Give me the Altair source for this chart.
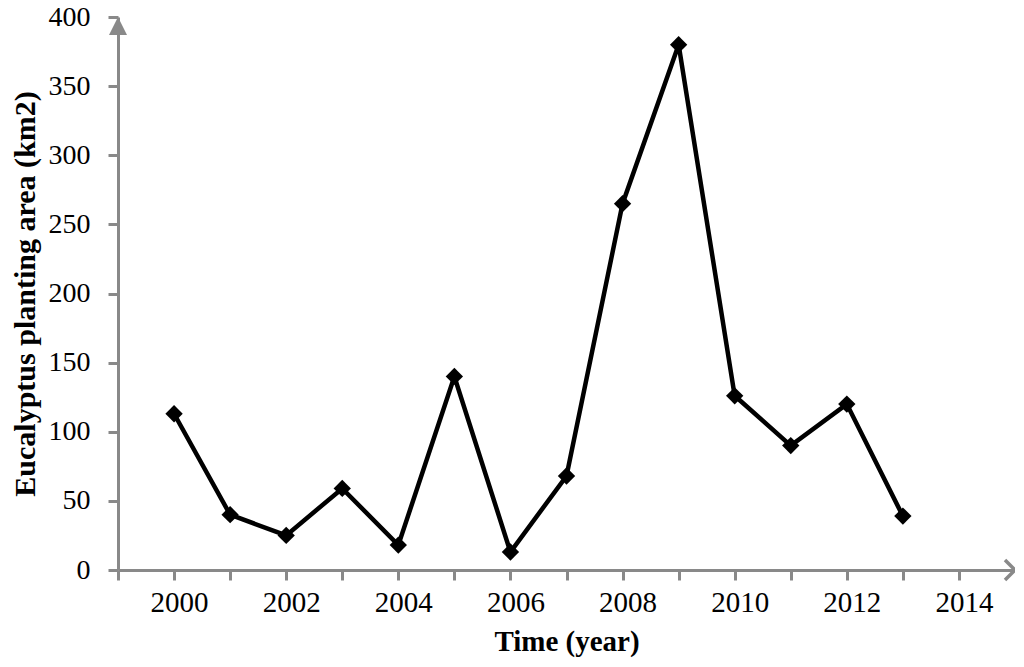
import altair as alt
import pandas as pd

years = [2000, 2001, 2002, 2003, 2004, 2005, 2006, 2007, 2008, 2009, 2010, 2011, 2012, 2013]
area = [113, 40, 25, 59, 18, 140, 13, 68, 265, 380, 126, 90, 120, 39]
x_ticks = list(range(1999, 2015))
y_ticks = [0, 50, 100, 150, 200, 250, 300, 350, 400]

df = pd.DataFrame({"year": years, "area": area})

AX = "#898989"
FONT = "Liberation Serif"

xs = alt.Scale(domain=[1999, 2015], nice=False, zero=False)
ys = alt.Scale(domain=[0, 400], nice=False)

xax = alt.Axis(values=x_ticks, labelExpr="datum.value % 2 == 0 ? datum.value : ''",
               format="d", grid=False, domainColor=AX, domainWidth=3, tickColor=AX,
               tickWidth=3, tickSize=10, labelFont=FONT, labelFontSize=29, labelColor="black",
               labelPadding=8, labelOffset=5, title="Time (year)", titleFont=FONT, titleFontSize=29,
               titleFontWeight="bold", titleColor="black", titlePadding=10, labelFlush=False)
yax = alt.Axis(values=y_ticks, grid=False, domainColor=AX, domainWidth=3, tickColor=AX,
               tickWidth=3, tickSize=10, labelFont=FONT, labelFontSize=28, labelColor="black",
               labelPadding=18, title="Eucalyptus planting area (km2)", titleFont=FONT,
               titleFontSize=30, titleFontWeight="bold", titleColor="black", titlePadding=8,
               labelFlush=False)

base = alt.Chart(df)
line = base.mark_line(color="black", strokeWidth=4.5).encode(
    x=alt.X("year:Q", scale=xs, axis=xax),
    y=alt.Y("area:Q", scale=ys, axis=yax),
)
pts = base.mark_point(shape="diamond", filled=True, color="black", size=300, opacity=1).encode(
    x=alt.X("year:Q", scale=xs), y=alt.Y("area:Q", scale=ys)
)

yarrow = alt.Chart(pd.DataFrame({"a": [0]})).mark_point(
    shape="M 0 -1 L 1 1 L -1 1 Z", filled=True, color=AX, size=324, opacity=1, yOffset=9
).encode(x=alt.datum(1999, scale=xs), y=alt.datum(400, scale=ys))

xarrow = alt.Chart(pd.DataFrame({"a": [0]})).mark_point(
    shape="M -1 -1 L 0 0 L -1 1", filled=False, color=AX, size=400, strokeWidth=3.5, opacity=1
).encode(x=alt.datum(2015, scale=xs), y=alt.datum(0, scale=ys))

chart = alt.layer(line, pts, yarrow, xarrow).properties(
    width=897, height=553,
    background="white",
    autosize=alt.AutoSizeParams(type="none"),
    padding={"left": 110, "top": 9, "right": 0, "bottom": 90},
).configure_view(strokeWidth=0, strokeOpacity=0)

chart.save("out.html", embed_options={"renderer": "svg", "actions": False})
